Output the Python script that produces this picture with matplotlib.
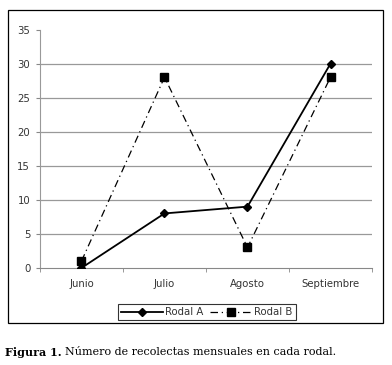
import matplotlib.pyplot as plt
import matplotlib.patches as patches
import numpy as np

meses = ["Junio", "Julio", "Agosto", "Septiembre"]
rodal_a = [0, 8, 9, 30]
rodal_b = [1, 28, 3, 28]

fig = plt.figure(figsize=(3.92, 3.65), dpi=100)
ax = fig.add_axes([0.102, 0.266, 0.847, 0.653])

x = np.arange(len(meses)) + 0.5
ax.plot(x, rodal_a, "k-", linewidth=1.3, marker="D", markersize=4.5, label="Rodal A", zorder=4)
ax.plot(x, rodal_b, color="k", linestyle=(0, (6, 3, 1, 3)), linewidth=0.9,
        marker="s", markersize=5.5, label="Rodal B", zorder=3)

ax.set_xlim(0, 4)
ax.set_ylim(0, 35)
ax.set_yticks(range(0, 40, 5))
ax.set_xticks(x)
ax.set_xticklabels(meses)
ax.set_xticks(range(0, 5), minor=True)
ax.tick_params(axis="x", which="major", length=0, pad=8, labelsize=7.3, labelcolor="#333333")
ax.tick_params(axis="x", which="minor", length=3, color="#888888", direction="out")
ax.tick_params(axis="y", length=3, color="#888888", labelsize=7.3, labelcolor="#333333", pad=4)

for y in range(5, 35, 5):
    ax.axhline(y, color="#999999", linewidth=0.9, zorder=0)

for s in ["top", "right"]:
    ax.spines[s].set_visible(False)
ax.spines["left"].set_color("#999999")
ax.spines["bottom"].set_color("#888888")

leg = fig.legend(loc="center", bbox_to_anchor=(0.527, 0.145), ncol=2, fontsize=7.3,
                 frameon=True, fancybox=False, edgecolor="k", handlelength=4.2,
                 handletextpad=0.2, columnspacing=0.6, borderpad=0.3)
leg.get_frame().set_linewidth(0.8)
for t in leg.get_texts():
    t.set_color("#333333")

box = patches.Rectangle((0.0204, 0.115), 0.9566, 0.8575, transform=fig.transFigure,
                        fill=False, edgecolor="k", linewidth=0.9)
fig.patches.append(box)

t1 = fig.text(0.013, 1 - 352 / 365, "Figura 1.", fontsize=8, fontweight="bold",
              family="DejaVu Serif", va="center")
fig.canvas.draw()
bb = t1.get_window_extent()
fig.text((bb.x1 + 3) / fig.bbox.width, 1 - 352 / 365,
         "Número de recolectas mensuales en cada rodal.", fontsize=8,
         family="DejaVu Serif", va="center")

plt.savefig("out.png", dpi=100)
plt.close()
